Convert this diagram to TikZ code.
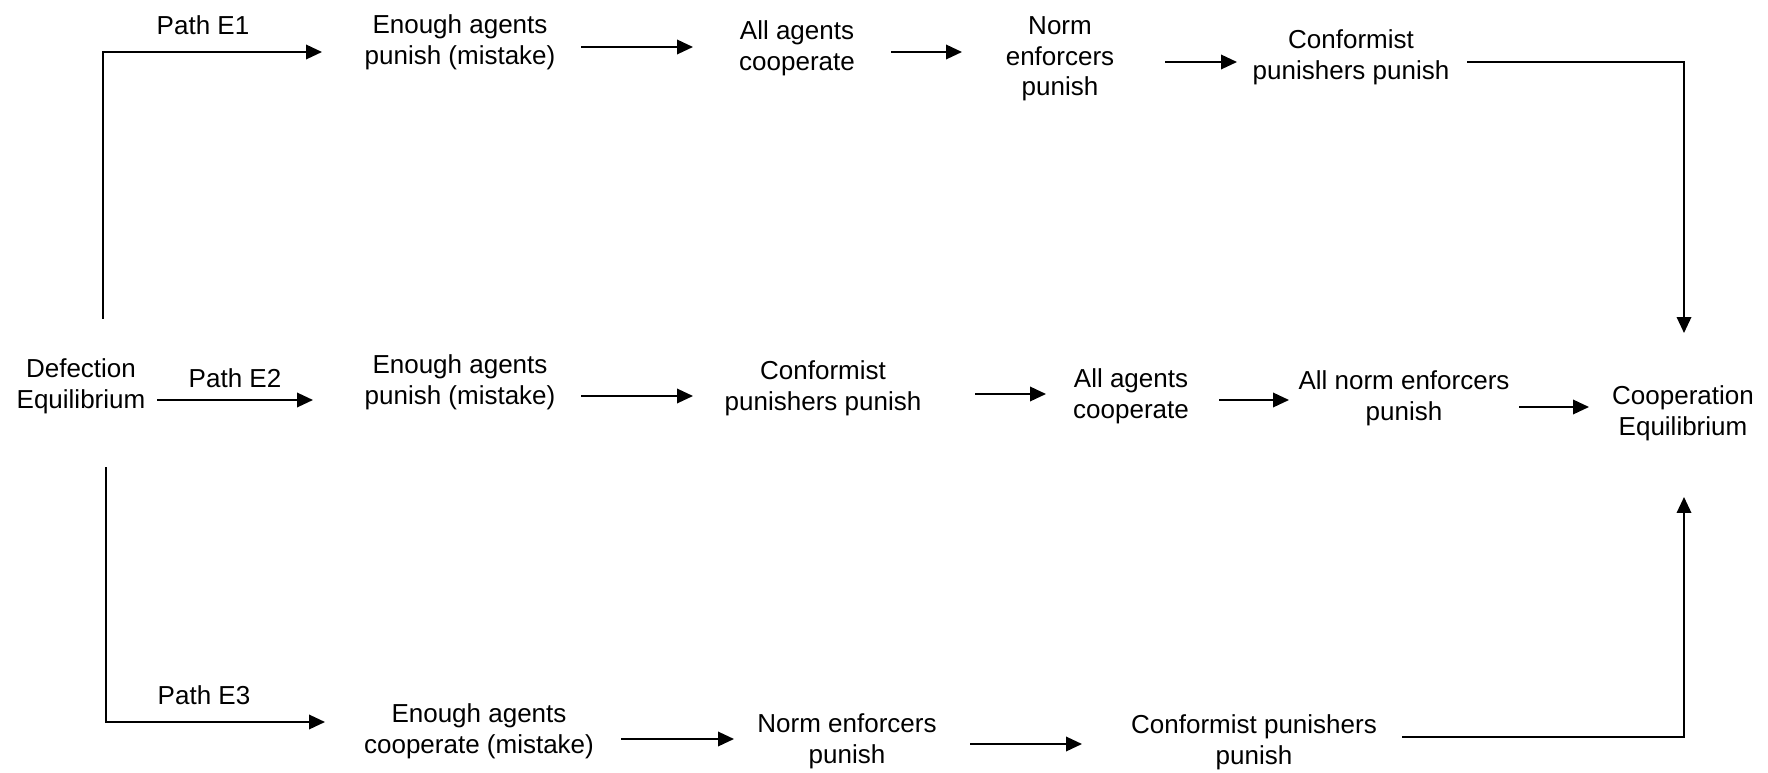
\documentclass[tikz,border=0pt]{standalone}
\usepackage{fontspec}
\setmainfont{Liberation Sans}
\usetikzlibrary{arrows.meta,calc}
\begin{document}
\begin{tikzpicture}[x=0.02cm,y=-0.02cm,
  lbl/.style={font=\fontsize{14.8}{17.5}\selectfont, align=center, inner sep=0pt},
  arr/.style={line width=1.1pt, -{Triangle[length=0.32cm,width=0.29cm]}}]
\path[use as bounding box] (0,0) rectangle (1768,773);

% nodes
\node[lbl] (Def)  at (81,386)   {Defection\\Equilibrium};
\node[lbl] (Coop) at (1683,413) {Cooperation\\Equilibrium};

\node[lbl] (P1)  at (203,25)   {Path E1};
\node[lbl] (E1a) at (460,42)   {Enough agents\\punish (mistake)};
\node[lbl] (E1b) at (797,48)   {All agents\\cooperate};
\node[lbl] (E1c) at (1060,59)  {Norm\\enforcers\\punish};
\node[lbl] (E1d) at (1351,57)  {Conformist\\punishers punish};

\node[lbl] (P2)  at (235,378)  {Path E2};
\node[lbl] (E2a) at (460,382)  {Enough agents\\punish (mistake)};
\node[lbl] (E2b) at (823,388)  {Conformist\\punishers punish};
\node[lbl] (E2c) at (1131,396) {All agents\\cooperate};
\node[lbl] (E2d) at (1404,398) {All norm enforcers\\punish};

\node[lbl] (P3)  at (204,695)  {Path E3};
\node[lbl] (E3a) at (479,731)  {Enough agents\\cooperate (mistake)};
\node[lbl] (E3b) at (847,741)  {Norm enforcers\\punish};
\node[lbl] (E3c) at (1254,742) {Conformist punishers\\punish};

% row 1
\draw[arr] ($(Def)+(22,-67)$) |- ($(E1a)+(-138,10)$);
\draw[arr] ($(E1a)+(121,5)$) -- ($(E1b)+(-104,-1)$);
\draw[arr] ($(E1b)+(94,4)$) -- ($(E1c)+(-98,-7)$);
\draw[arr] ($(E1c)+(105,3)$) -- ($(E1d)+(-114,5)$);
\draw[arr] ($(E1d)+(116,5)$) -| ($(Coop)+(1,-80)$);

% row 2
\draw[arr] ($(Def)+(76,14)$) -- ($(E2a)+(-147,18)$);
\draw[arr] ($(E2a)+(121,14)$) -- ($(E2b)+(-130,8)$);
\draw[arr] ($(E2b)+(152,6)$) -- ($(E2c)+(-85,-2)$);
\draw[arr] ($(E2c)+(88,4)$) -- ($(E2d)+(-115,2)$);
\draw[arr] ($(E2d)+(115,9)$) -- ($(Coop)+(-94,-6)$);

% row 3
\draw[arr] ($(Def)+(25,81)$) |- ($(E3a)+(-154,-9)$);
\draw[arr] ($(E3a)+(142,8)$) -- ($(E3b)+(-113,-2)$);
\draw[arr] ($(E3b)+(123,3)$) -- ($(E3c)+(-172,2)$);
\draw[arr] ($(E3c)+(148,-5)$) -| ($(Coop)+(1,84)$);
\end{tikzpicture}
\end{document}
